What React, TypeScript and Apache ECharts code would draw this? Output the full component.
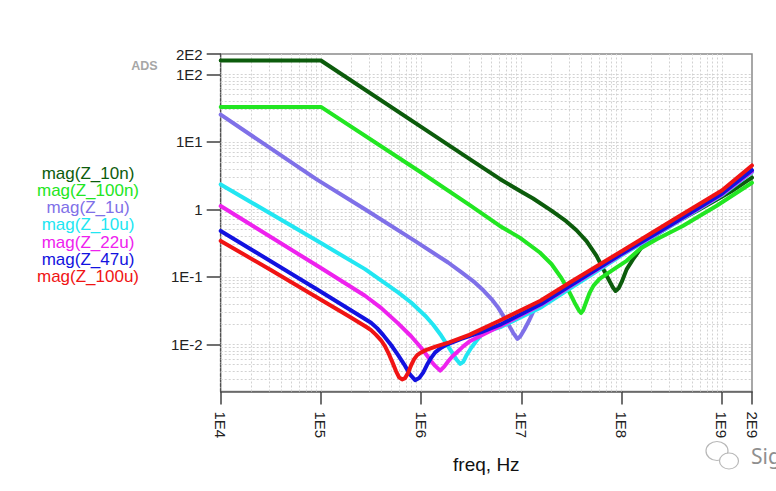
import React, { useEffect, useRef } from "react";
import * as echarts from "echarts";

// ---- Data: log10(frequency / Hz) and log10(|Z| / ohm) ----
const SERIES_NAMES = ["mag(Z_10n)", "mag(Z_100n)", "mag(Z_1u)", "mag(Z_10u)", "mag(Z_22u)", "mag(Z_47u)", "mag(Z_100u)"];
const SERIES_COLORS = ["#0c5c0c", "#22e622", "#7f70e8", "#22e6f2", "#ee22ee", "#1212e0", "#f01414"];

const LOGF_10N = [4.0, 5.0, 6.0, 6.5, 6.785, 7.0, 7.117, 7.3, 7.45, 7.55, 7.65, 7.75, 7.85, 7.91, 7.94, 7.97, 8.0, 8.05, 8.11, 8.2, 8.31, 8.5, 8.78, 9.1, 9.301];
const LOGZ_10N = [2.205, 2.205, 1.222, 0.73, 0.45, 0.26, 0.16, -0.02, -0.18, -0.31, -0.47, -0.69, -0.98, -1.15, -1.21, -1.17, -1.08, -0.89, -0.75, -0.56, -0.41, -0.23, 0.0, 0.27, 0.47];

const LOGF_100N = [4.0, 5.0, 6.0, 6.5, 6.785, 6.984, 7.184, 7.3, 7.4, 7.47, 7.53, 7.575, 7.595, 7.615, 7.64, 7.68, 7.72, 7.78, 7.85, 7.95, 8.05, 8.18, 8.35, 8.61, 8.945, 9.301];
const LOGZ_100N = [1.517, 1.517, 0.546, 0.046, -0.246, -0.419, -0.64, -0.81, -1.02, -1.2, -1.38, -1.5, -1.535, -1.5, -1.4, -1.24, -1.13, -1.03, -0.96, -0.86, -0.763, -0.59, -0.443, -0.246, 0.049, 0.394];

const LOGF_1U = [4.0, 4.957, 5.439, 5.937, 6.269, 6.4, 6.535, 6.62, 6.702, 6.77, 6.835, 6.88, 6.918, 6.96, 6.99, 7.03, 7.08, 7.13, 7.18, 7.3, 7.5, 8.0, 8.5, 9.0, 9.301];
const LOGZ_1U = [1.403, 0.443, 0.0, -0.468, -0.788, -0.93, -1.083, -1.2, -1.33, -1.46, -1.615, -1.73, -1.83, -1.92, -1.88, -1.78, -1.64, -1.48, -1.4, -1.27, -1.09, -0.65, -0.21, 0.24, 0.57];

const LOGF_10U = [4.0, 5.0, 5.44, 5.77, 5.9, 6.04, 6.12, 6.2, 6.3, 6.35, 6.39, 6.42, 6.45, 6.5, 6.55, 6.6, 6.65, 6.8, 7.2, 7.5, 8.0, 8.5, 9.0, 9.301];
const LOGZ_10U = [0.369, -0.5, -0.886, -1.23, -1.38, -1.576, -1.71, -1.87, -2.1, -2.22, -2.29, -2.26, -2.17, -2.05, -1.95, -1.86, -1.81, -1.74, -1.45, -1.16, -0.68, -0.24, 0.21, 0.55];

const LOGF_22U = [4.0, 5.0, 5.44, 5.6, 5.77, 5.9, 6.0, 6.06, 6.1, 6.14, 6.19, 6.23, 6.27, 6.31, 6.355, 6.42, 6.49, 6.6, 6.8, 7.2, 7.5, 8.0, 8.5, 9.0, 9.301];
const LOGZ_22U = [0.049, -0.87, -1.28, -1.46, -1.69, -1.88, -2.05, -2.17, -2.25, -2.32, -2.39, -2.33, -2.25, -2.18, -2.12, -2.03, -1.95, -1.87, -1.72, -1.41, -1.13, -0.665, -0.23, 0.22, 0.56];

const LOGF_47U = [4.0, 5.0, 5.44, 5.5, 5.56, 5.62, 5.7, 5.77, 5.84, 5.89, 5.94, 5.98, 6.02, 6.06, 6.1, 6.14, 6.2, 6.26, 6.4, 6.6, 6.8, 7.2, 7.5, 8.0, 8.5, 9.0, 9.301];
const LOGZ_47U = [-0.32, -1.22, -1.625, -1.68, -1.76, -1.86, -2.01, -2.16, -2.32, -2.45, -2.53, -2.5, -2.42, -2.3, -2.2, -2.12, -2.05, -2.0, -1.92, -1.82, -1.7, -1.4, -1.12, -0.66, -0.22, 0.23, 0.58];

const LOGF_100U = [4.0, 4.5, 5.0, 5.27, 5.45, 5.5, 5.55, 5.6, 5.64, 5.68, 5.72, 5.75, 5.78, 5.81, 5.84, 5.87, 5.9, 5.93, 5.96, 6.0, 6.04, 6.15, 6.28, 6.48, 6.78, 7.19, 7.5, 8.0, 8.5, 9.0, 9.301];
const LOGZ_100U = [-0.468, -0.9, -1.34, -1.576, -1.74, -1.79, -1.86, -1.94, -2.03, -2.15, -2.29, -2.4, -2.49, -2.52, -2.5, -2.42, -2.31, -2.22, -2.16, -2.12, -2.09, -2.03, -1.97, -1.86, -1.65, -1.354, -1.07, -0.62, -0.17, 0.28, 0.65];

const SERIES_LOGF = [LOGF_10N, LOGF_100N, LOGF_1U, LOGF_10U, LOGF_22U, LOGF_47U, LOGF_100U];
const SERIES_LOGZ = [LOGZ_10N, LOGZ_100N, LOGZ_1U, LOGZ_10U, LOGZ_22U, LOGZ_47U, LOGZ_100U];

const X_TICKS = [1e4, 1e5, 1e6, 1e7, 1e8, 1e9, 2e9];
const X_TICK_LABELS = ["1E4", "1E5", "1E6", "1E7", "1E8", "1E9", "2E9"];
const Y_TICKS = [0.01, 0.1, 1, 10, 100, 200];
const Y_TICK_LABELS = ["1E-2", "1E-1", "1", "1E1", "1E2", "2E2"];
const X_RANGE = [1e4, 2e9];
const Y_RANGE = [0.002, 200];

const lg = (v: number) => Math.log10(v);

function gridValues(lo: number, hi: number): number[] {
  const out: number[] = [];
  for (let e = Math.floor(lg(lo)); e <= Math.ceil(lg(hi)); e++) {
    for (let m = 1; m <= 9; m++) {
      const v = m * Math.pow(10, e);
      if (v > lo * 1.0001 && v < hi * 0.9999) out.push(v);
    }
  }
  return out;
}

export default function App() {
  const ref = useRef<HTMLDivElement>(null);
  useEffect(() => {
    if (!ref.current) return;
    const chart = echarts.init(ref.current, null, { renderer: "svg" });
    const xTickVals = X_TICKS.map(lg);
    const yTickVals = Y_TICKS.map(lg);
    const nearest = (vals: number[], labels: string[], v: number) => {
      let best = 0;
      vals.forEach((t, i) => { if (Math.abs(t - v) < Math.abs(vals[best] - v)) best = i; });
      return labels[best];
    };
    const gridLineStyle = { color: "#d2d2d2", type: [2, 2] as any, width: 1 };
    const markData: any[] = [
      ...gridValues(X_RANGE[0], X_RANGE[1]).map((v) => ({ xAxis: lg(v) })),
      ...gridValues(Y_RANGE[0], Y_RANGE[1]).map((v) => ({ yAxis: lg(v) })),
    ];
    const series: any[] = [
      {
        type: "line",
        data: [],
        silent: true,
        z: 1,
        markLine: {
          silent: true,
          z: 1,
          symbol: ["none", "none"],
          label: { show: false },
          lineStyle: gridLineStyle,
          animation: false,
          data: markData,
        },
      },
      ...SERIES_NAMES.map((name, i) => ({
        type: "line",
        name,
        silent: true,
        showSymbol: false,
        symbol: "none",
        smooth: false,
        z: 10 + i,
        lineStyle: { color: SERIES_COLORS[i], width: 4, join: "round", cap: "round" },
        itemStyle: { color: SERIES_COLORS[i] },
        data: SERIES_LOGF[i].map((f, k) => [f, SERIES_LOGZ[i][k]]),
      })),
    ];
    const legendGraphics = SERIES_NAMES.map((name, i) => ({
      type: "text",
      x: 88,
      y: 173 + i * 17.3,
      style: {
        text: name,
        fill: SERIES_COLORS[i],
        font: '17px "Liberation Sans", Arial, sans-serif',
        textAlign: "center",
        textVerticalAlign: "middle",
      },
    }));
    chart.setOption({
      animation: false,
      backgroundColor: "#ffffff",
      grid: {
        left: 220.7,
        right: 24,
        top: 54,
        bottom: 99.5,
        show: true,
        borderColor: "#8a8a8a",
        borderWidth: 1.5,
        backgroundColor: "transparent",
      },
      xAxis: {
        type: "value",
        min: lg(X_RANGE[0]),
        max: lg(X_RANGE[1]),
        name: "freq, Hz",
        nameLocation: "middle",
        nameGap: 63,
        nameTextStyle: { fontSize: 19, color: "#111", fontFamily: '"Liberation Sans", Arial, sans-serif' },
        axisLine: { show: true, onZero: false, lineStyle: { color: "#606060", width: 1.5 } },
        axisTick: { show: true, length: 13, customValues: xTickVals, lineStyle: { color: "#404040", width: 1.5 } },
        axisLabel: {
          show: true,
          customValues: xTickVals,
          rotate: -90,
          margin: 20,
          fontSize: 15,
          color: "#222",
          fontFamily: '"Liberation Sans", Arial, sans-serif',
          formatter: (v: number) => nearest(xTickVals, X_TICK_LABELS, v),
        },
        splitLine: { show: false },
      },
      yAxis: {
        type: "value",
        min: lg(Y_RANGE[0]),
        max: lg(Y_RANGE[1]),
        axisLine: { show: true, onZero: false, lineStyle: { color: "#505050", width: 1.2, type: [3, 2] } },
        axisTick: { show: true, length: 14, customValues: yTickVals, lineStyle: { color: "#404040", width: 1.5 } },
        axisLabel: {
          show: true,
          customValues: yTickVals,
          margin: 18,
          fontSize: 15,
          color: "#222",
          fontFamily: '"Liberation Sans", Arial, sans-serif',
          formatter: (v: number) => nearest(yTickVals, Y_TICK_LABELS, v),
        },
        splitLine: { show: false },
      },
      graphic: [
        ...legendGraphics,
        {
          type: "text",
          x: 144.5,
          y: 66,
          style: {
            text: "ADS",
            fill: "#a6a6a6",
            font: 'bold 12.5px "Liberation Sans", Arial, sans-serif',
            textAlign: "center",
            textVerticalAlign: "middle",
          },
        },
        {
          type: "ellipse",
          shape: { cx: 717, cy: 451, rx: 11, ry: 9.5 },
          style: { fill: "#ffffff", stroke: "#b8b8b8", lineWidth: 1.2 },
        },
        {
          type: "ellipse",
          shape: { cx: 729, cy: 461, rx: 9.5, ry: 8 },
          style: { fill: "#ffffff", stroke: "#b8b8b8", lineWidth: 1.2 },
        },
        {
          type: "text",
          x: 751,
          y: 456,
          style: {
            text: "Sig",
            fill: "#8f8f8f",
            font: '21px "Noto Sans", Arial, sans-serif',
            textAlign: "left",
            textVerticalAlign: "middle",
          },
        },
      ],
      series,
    });
    return () => chart.dispose();
  }, []);
  return (
    <div
      ref={ref}
      style={{ position: "fixed", left: 0, top: 0, width: 776, height: 491, background: "#fff" }}
    />
  );
}
